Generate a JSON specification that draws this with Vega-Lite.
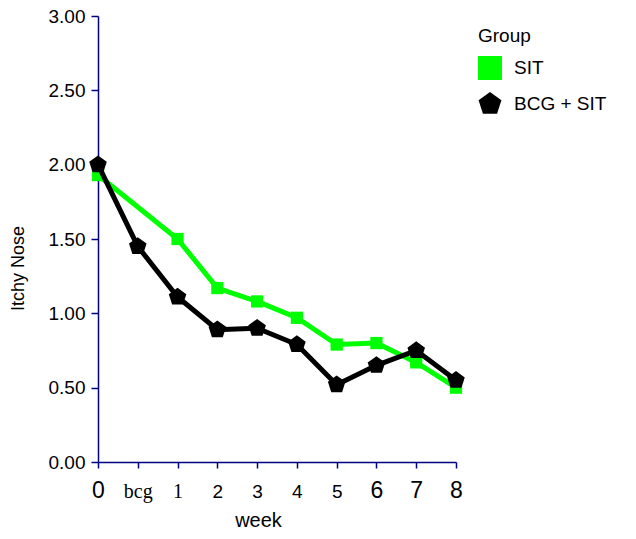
{
  "$schema": "https://vega.github.io/schema/vega-lite/v6.json",
  "width": 358,
  "height": 446,
  "autosize": "none",
  "padding": {"left": 98, "top": 16, "right": 180, "bottom": 77},
  "background": "white",
  "data": {
    "values": [
      {"week": "0", "group": "SIT", "score": 1.93},
      {"week": "1", "group": "SIT", "score": 1.50},
      {"week": "2", "group": "SIT", "score": 1.17},
      {"week": "3", "group": "SIT", "score": 1.08},
      {"week": "4", "group": "SIT", "score": 0.97},
      {"week": "5", "group": "SIT", "score": 0.79},
      {"week": "6", "group": "SIT", "score": 0.80},
      {"week": "7", "group": "SIT", "score": 0.67},
      {"week": "8", "group": "SIT", "score": 0.50},
      {"week": "0", "group": "BCG + SIT", "score": 2.00},
      {"week": "bcg", "group": "BCG + SIT", "score": 1.45},
      {"week": "1", "group": "BCG + SIT", "score": 1.11},
      {"week": "2", "group": "BCG + SIT", "score": 0.89},
      {"week": "3", "group": "BCG + SIT", "score": 0.90},
      {"week": "4", "group": "BCG + SIT", "score": 0.79},
      {"week": "5", "group": "BCG + SIT", "score": 0.52},
      {"week": "6", "group": "BCG + SIT", "score": 0.65},
      {"week": "7", "group": "BCG + SIT", "score": 0.75},
      {"week": "8", "group": "BCG + SIT", "score": 0.55}
    ]
  },
  "encoding": {
    "x": {
      "field": "week",
      "type": "ordinal",
      "sort": null,
      "scale": {"type": "point", "padding": 0, "domain": ["0", "bcg", "1", "2", "3", "4", "5", "6", "7", "8"]},
      "axis": {
        "title": "week",
        "titleFont": "Liberation Sans",
        "titleFontSize": 20,
        "titleFontWeight": "normal",
        "titleColor": "black",
        "titleX": 160,
        "titleAlign": "center",
        "titleY": 64,
        "titleBaseline": "alphabetic",
        "labelAngle": 0,
        "labelBaseline": "alphabetic",
        "labelPadding": 29,
        "labelColor": "black",
        "labelFont": {"condition": {"test": "datum.value === 'bcg' || datum.value === '1'", "value": "Liberation Serif"}, "value": "Liberation Sans"},
        "labelFontSize": {"condition": [{"test": "datum.value === '0' || datum.value === '6' || datum.value === '7' || datum.value === '8'", "value": 23}, {"test": "datum.value === 'bcg' || datum.value === '1'", "value": 20}], "value": 19},
        "domainColor": "#000080",
        "domainWidth": 1.5,
        "tickColor": "#000080",
        "tickWidth": 1.5,
        "tickSize": 6,
        "grid": false
      }
    },
    "y": {
      "field": "score",
      "type": "quantitative",
      "scale": {"domain": [0, 3], "nice": false, "zero": true},
      "axis": {
        "title": "Itchy Nose",
        "titleFont": "Liberation Sans",
        "titleFontSize": 18,
        "titleFontWeight": "normal",
        "titleColor": "black",
        "titleAngle": -90,
        "titleX": -80,
        "titleY": 252,
        "titleAlign": "center",
        "titleBaseline": "middle",
        "values": [0, 0.5, 1, 1.5, 2, 2.5, 3],
        "format": ".2f",
        "labelFont": "Liberation Sans",
        "labelFontSize": 19,
        "labelColor": "black",
        "labelPadding": 6,
        "domainColor": "#000080",
        "domainWidth": 1.5,
        "tickColor": "#000080",
        "tickWidth": 1.5,
        "tickSize": 7,
        "grid": false
      }
    }
  },
  "layer": [
    {
      "transform": [{"filter": "datum.group === 'SIT'"}],
      "mark": {"type": "line", "stroke": "#00ff00", "strokeWidth": 5},
      "encoding": {}
    },
    {
      "transform": [{"filter": "datum.group === 'SIT'"}],
      "mark": {"type": "point", "filled": true, "opacity": 1, "size": 150, "strokeWidth": 0},
      "encoding": {
        "fill": {"field": "group", "type": "nominal", "scale": {"domain": ["SIT", "BCG + SIT"], "range": ["#00ff00", "#000000"]}, "title": "Group"},
        "shape": {"field": "group", "type": "nominal", "scale": {"domain": ["SIT", "BCG + SIT"], "range": ["square", "M0,-1L0.951,-0.309L0.588,0.809L-0.588,0.809L-0.951,-0.309Z"]}, "title": "Group"}
      }
    },
    {
      "transform": [{"filter": "datum.group === 'BCG + SIT'"}],
      "mark": {"type": "line", "stroke": "#000000", "strokeWidth": 5},
      "encoding": {}
    },
    {
      "transform": [{"filter": "datum.group === 'BCG + SIT'"}],
      "mark": {"type": "point", "filled": true, "opacity": 1, "size": 340, "strokeWidth": 0},
      "encoding": {
        "fill": {"field": "group", "type": "nominal", "title": "Group"},
        "shape": {"field": "group", "type": "nominal", "title": "Group"}
      }
    }
  ],
  "resolve": {"scale": {"fill": "shared", "shape": "shared"}},
  "config": {
    "view": {"stroke": null},
    "legend": {
      "orient": "none",
      "legendX": 380,
      "legendY": 11,
      "padding": 0,
      "titleFont": "Liberation Sans",
      "titleFontSize": 19,
      "titleFontWeight": "normal",
      "titleColor": "black",
      "titlePadding": 10,
      "labelFont": "Liberation Sans",
      "labelFontSize": 19,
      "labelColor": "black",
      "labelOffset": 12,
      "symbolSize": 576,
      "symbolStrokeWidth": 0,
      "symbolOpacity": 1,
      "rowPadding": 12
    }
  }
}
